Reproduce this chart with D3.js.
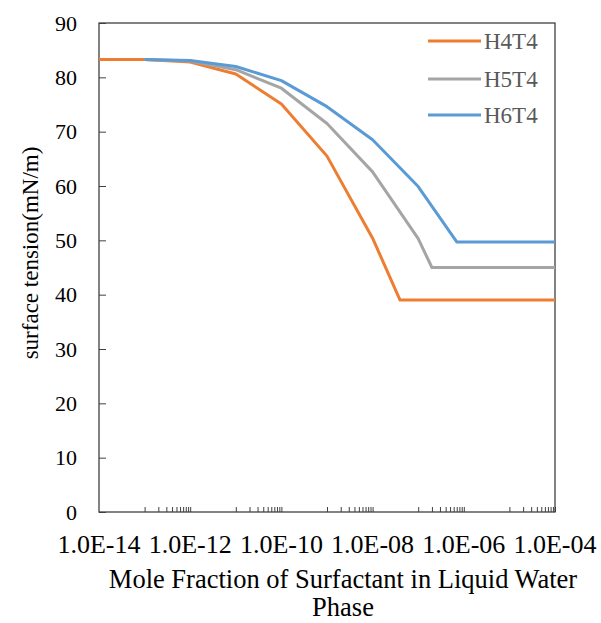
<!DOCTYPE html>
<html>
<head>
<meta charset="utf-8">
<script src="https://cdn.jsdelivr.net/npm/d3@7"></script>
<style>
  body { margin: 0; background: #fff; }
  svg text { font-family: "Liberation Serif", "Times New Roman", serif; }
</style>
</head>
<body>
<div id="chart"></div>
<script>
// data
const seriesNames = ['H4T4', 'H5T4', 'H6T4'];
const seriesColors = ['#ED7D31', '#A5A5A5', '#5B9BD5'];

const h4t4X = [1e-14, 1e-13, 1e-12, 1e-11, 1e-10, 1e-9, 1e-8, 4e-8, 1e-6, 1e-4];
const h4t4Y = [83.3, 83.3, 82.8, 80.6, 75.1, 65.5, 50.4, 39.0, 39.0, 39.0];

const h5t4X = [1e-13, 1e-12, 1e-11, 1e-10, 1e-9, 1e-8, 1e-7, 2e-7, 1e-6, 1e-4];
const h5t4Y = [83.3, 83.0, 81.4, 78.0, 71.5, 62.6, 50.3, 45.0, 45.0, 45.0];

const h6t4X = [1e-13, 1e-12, 1e-11, 1e-10, 1e-9, 1e-8, 1e-7, 7e-7, 1e-5, 1e-4];
const h6t4Y = [83.3, 83.1, 82.0, 79.4, 74.6, 68.5, 59.9, 49.7, 49.7, 49.7];

const xTickValues = [1e-14, 1e-12, 1e-10, 1e-8, 1e-6, 1e-4];
const xTickLabels = ['1.0E-14', '1.0E-12', '1.0E-10', '1.0E-08', '1.0E-06', '1.0E-04'];
const yTickValues = [0, 10, 20, 30, 40, 50, 60, 70, 80, 90];

const W = 601, H = 623;
const margin = {top: 23, right: 46, bottom: 111, left: 99};
const iw = W - margin.left - margin.right;
const ih = H - margin.top - margin.bottom;

const svg = d3.select('#chart').append('svg')
  .attr('width', W)
  .attr('height', H);

const g = svg.append('g')
  .attr('transform', `translate(${margin.left},${margin.top})`);

const x = d3.scaleLog().domain([1e-14, 1e-4]).range([0, iw]);
const y = d3.scaleLinear().domain([0, 90]).range([ih, 0]);

// minor ticks: Excel draws them only in every other decade
const minorTicks = [];
[1e-13, 1e-11, 1e-9, 1e-7, 1e-5].forEach(base => {
  for (let k = 1; k <= 10; k++) minorTicks.push(base * k);
});

const axisColor = '#404040';

// x axis: inward minor ticks, labels separately
const xAxis = g.append('g')
  .attr('transform', `translate(0,${ih})`)
  .call(d3.axisBottom(x).tickValues(minorTicks).tickSize(-5).tickFormat(''));
xAxis.select('.domain').remove();
xAxis.selectAll('.tick line').attr('stroke', axisColor);

g.append('g')
  .selectAll('text')
  .data(xTickValues)
  .join('text')
  .attr('x', d => x(d))
  .attr('y', ih + 41)
  .attr('text-anchor', 'middle')
  .attr('font-size', 26)
  .attr('fill', '#000')
  .text((d, i) => xTickLabels[i]);

// y axis: inward ticks
const yAxis = g.append('g')
  .call(d3.axisLeft(y).tickValues(yTickValues).tickSize(-7).tickPadding(22));
yAxis.attr('font-family', null);
yAxis.select('.domain').remove();
yAxis.selectAll('.tick line').attr('stroke', axisColor);
yAxis.selectAll('.tick text')
  .attr('font-size', 22)
  .attr('fill', '#000');

// plot frame
g.append('rect')
  .attr('x', 0).attr('y', 0)
  .attr('width', iw).attr('height', ih)
  .attr('fill', 'none')
  .attr('stroke', axisColor)
  .attr('stroke-width', 1.3);

// lines
const seriesData = [
  h4t4X.map((v, i) => [v, h4t4Y[i]]),
  h5t4X.map((v, i) => [v, h5t4Y[i]]),
  h6t4X.map((v, i) => [v, h6t4Y[i]])
];
const line = d3.line().x(d => x(d[0])).y(d => y(d[1]));

g.append('g')
  .selectAll('path')
  .data(seriesData)
  .join('path')
  .attr('d', line)
  .attr('fill', 'none')
  .attr('stroke', (d, i) => seriesColors[i])
  .attr('stroke-width', 3)
  .attr('stroke-linejoin', 'round');

// legend
const legend = svg.append('g').attr('transform', 'translate(428,41)');
const items = legend.selectAll('g')
  .data(seriesNames)
  .join('g')
  .attr('transform', (d, i) => `translate(0,${[0, 38, 74][i]})`);
items.append('line')
  .attr('x1', 0).attr('x2', 53)
  .attr('stroke', (d, i) => seriesColors[i])
  .attr('stroke-width', 3);
items.append('text')
  .attr('x', 56)
  .attr('y', 8)
  .attr('font-size', 23)
  .attr('fill', '#595959')
  .text(d => d);

// axis titles
svg.append('text')
  .attr('x', 343)
  .attr('y', 588)
  .attr('text-anchor', 'middle')
  .attr('font-size', 26.5)
  .attr('fill', '#000')
  .text('Mole Fraction of Surfactant in Liquid Water');
svg.append('text')
  .attr('x', 343)
  .attr('y', 616)
  .attr('text-anchor', 'middle')
  .attr('font-size', 26.5)
  .attr('fill', '#000')
  .text('Phase');

svg.append('text')
  .attr('transform', 'translate(38,253) rotate(-90)')
  .attr('text-anchor', 'middle')
  .attr('font-size', 23)
  .attr('fill', '#000')
  .text('surface tension(mN/m)');
</script>
</body>
</html>
